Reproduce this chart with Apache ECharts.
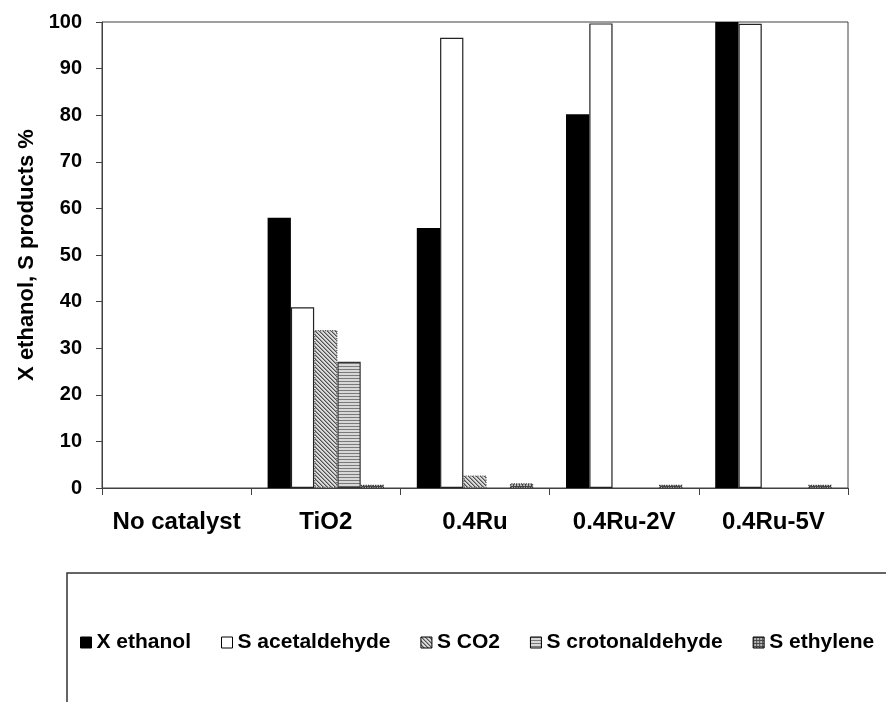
<!DOCTYPE html>
<html>
<head>
<meta charset="utf-8">
<script src="https://cdn.jsdelivr.net/npm/echarts@6/dist/echarts.min.js"></script>
<style>
html,body{margin:0;padding:0;background:#fff;}
#chart{width:886px;height:702px;}
</style>
</head>
<body>
<div id="chart"></div>
<script>
// ---- data ----
const categories = ['No catalyst', 'TiO2', '0.4Ru', '0.4Ru-2V', '0.4Ru-5V'];
const seriesNames = ['X ethanol', 'S acetaldehyde', 'S CO2', 'S crotonaldehyde', 'S ethylene'];
const xEthanol       = [0, 58.0, 55.8, 80.2, 100];
const sAcetaldehyde  = [0, 38.8, 96.6, 99.7, 99.6];
const sCO2           = [0, 33.9, 2.7, 0, 0];
const sCrotonaldehyde= [0, 27.1, 0, 0, 0];
const sEthylene      = [0, 0.7, 1.0, 0.7, 0.7];
const yTicks = [0, 10, 20, 30, 40, 50, 60, 70, 80, 90, 100];

// ---- fill patterns ----
function pattern(w, h, fn) {
  const c = document.createElement('canvas');
  c.width = w; c.height = h;
  const ctx = c.getContext('2d');
  for (let y = 0; y < h; y++) for (let x = 0; x < w; x++) {
    ctx.fillStyle = fn(x, y);
    ctx.fillRect(x, y, 1, 1);
  }
  return { image: c, repeat: 'repeat' };
}
const diagFill = pattern(4, 4, (x, y) => {
  const m = ((x - y) % 4 + 4) % 4;
  return m === 0 ? '#505050' : (m === 1 ? '#9a9a9a' : '#dcdcdc');
});
const horizFill = pattern(4, 3, (x, y) => (y === 0 ? '#7a7a7a' : '#d8d8d8'));
const gridFill = pattern(3, 3, (x, y) => (x === 0 || y === 0 ? '#4a4a4a' : '#b8b8b8'));

const styles = [
  { color: '#000000', borderColor: '#000000', borderWidth: 0 },
  { color: '#ffffff', borderColor: '#222222', borderWidth: 1.2 },
  { color: diagFill, borderColor: '#555555', borderWidth: 1.2, borderType: 'dotted' },
  { color: horizFill, borderColor: '#333333', borderWidth: 1.2 },
  { color: gridFill, borderColor: '#333333', borderWidth: 1.2, borderType: 'dotted' }
];
const allData = [xEthanol, sAcetaldehyde, sCO2, sCrotonaldehyde, sEthylene];

const series = seriesNames.map((name, i) => ({
  name: name,
  type: 'bar',
  barGap: '0%',
  barCategoryGap: '22%',
  itemStyle: styles[i],
  emphasis: { disabled: true },
  data: allData[i].map(v => v === 0 ? { value: 0, itemStyle: { borderWidth: 0, opacity: 0 } } : v)
}));

const FONT = 'Liberation Sans, Arial, sans-serif';
const chart = echarts.init(document.getElementById('chart'), null, { renderer: 'canvas' });
chart.setOption({
  animation: false,
  backgroundColor: '#ffffff',
  grid: {
    left: 102, right: 38, top: 22, bottom: 214,
    show: true, borderColor: '#404040', borderWidth: 1, backgroundColor: 'transparent'
  },
  legend: {
    left: 75, top: 627,
    itemWidth: 11, itemHeight: 11, itemGap: 30,
    icon: 'rect',
    textStyle: { fontFamily: FONT, fontSize: 21, fontWeight: 'bold', color: '#000' },
    data: seriesNames.map((n, i) => ({ name: n, itemStyle: Object.assign({}, styles[i], { borderColor: '#000', borderWidth: 1, borderType: 'solid' }) }))
  },
  xAxis: {
    type: 'category',
    data: categories,
    boundaryGap: true,
    axisLine: { show: true, lineStyle: { color: '#404040', width: 1 } },
    axisTick: { show: true, length: 7, interval: 0, alignWithLabel: false, lineStyle: { color: '#404040' } },
    axisLabel: { interval: 0, margin: 22, fontFamily: FONT, fontSize: 24, fontWeight: 'bold', color: '#000' },
    splitLine: { show: false }
  },
  yAxis: {
    type: 'value',
    min: yTicks[0], max: yTicks[yTicks.length - 1], interval: 10,
    name: 'X ethanol, S products %',
    nameLocation: 'middle',
    nameGap: 62,
    nameRotate: 90,
    nameTextStyle: { fontFamily: FONT, fontSize: 22, fontWeight: 'bold', color: '#000' },
    axisLine: { show: true, lineStyle: { color: '#404040', width: 1 } },
    axisTick: { show: true, length: 6, inside: false, lineStyle: { color: '#404040' } },
    axisLabel: { margin: 20, fontFamily: FONT, fontSize: 20, fontWeight: 'bold', color: '#000' },
    splitLine: { show: false }
  },
  graphic: [{
    type: 'rect',
    shape: { x: 67, y: 573, width: 900, height: 200 },
    style: { fill: 'none', stroke: '#333333', lineWidth: 1.5 },
    silent: true
  }],
  series: series
});
</script>
</body>
</html>
